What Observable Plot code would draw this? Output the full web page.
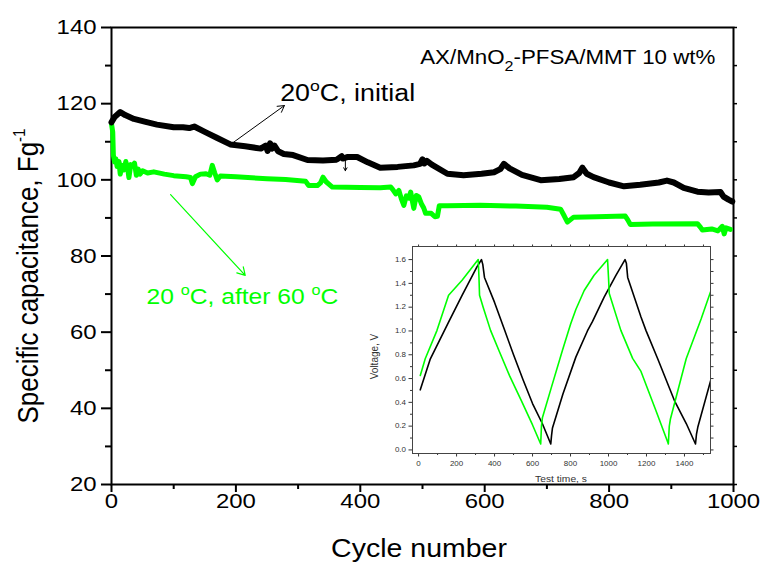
<!DOCTYPE html>
<html><head><meta charset="utf-8">
<script src="https://cdn.jsdelivr.net/npm/d3@7"></script>
<script src="https://cdn.jsdelivr.net/npm/@observablehq/plot@0.6"></script>
<style>
html,body{margin:0;padding:0;background:#fff;}
#wrap{position:relative;width:761px;height:565px;overflow:hidden;background:#fff;}
#wrap svg{position:absolute;max-width:none;}
</style></head><body><div id="wrap"></div>
<script>
// ---------- data ----------
const initialCycle = [0,5,14,22,36,55,73,100,115,125,133,150,170,191,215,240,248,251,255,258,262,268,277,292,315,340,362,370,372,380,395,412,432,460,486,496,500,503,507,515,540,566,595,615,625,631,640,660,690,720,743,752,757,764,775,800,824,850,880,893,904,920,942,960,979,984,992,998];
const initialCap = [115.1,116.5,117.8,117,116,115.2,114.5,113.8,113.8,113.6,114,112.6,111,109.3,108.8,108.2,109,107.6,109.6,108.2,109,107.5,106.8,106.5,105.2,105.1,105.3,106.2,105.6,106,106,104.6,103.2,103.4,103.8,104.2,105.4,104.3,105,104,101.6,101.2,101.6,102,102.8,104.2,103,101.3,99.9,100.2,100.7,101.8,103.2,101.6,100.7,99.3,98.3,98.7,99.3,99.8,99.3,97.9,96.9,96.7,96.8,95.6,94.8,94.3];

const afterCycle = [0,2,3,5,7,9,12,14,17,20,23,26,28,31,34,37,40,43,46,50,58,68,85,100,120,127,130,135,143,152,158,162,166,170,175,200,250,280,312,317,331,336,340,345,355,400,432,449,452,457,462,466,470,474,478,481,484,486,490,494,498,502,505,514,520,524,527,540,593,650,700,722,728,733,743,780,826,830,834,870,942,947,950,965,975,982,985,988,995];
const afterCap = [114.7,112.5,106.5,104.7,105.5,103.5,104.8,101.5,103.8,102.6,104.8,103,100.6,104,103.6,104.4,101.2,102.8,101.5,102.4,101.8,102.1,101.5,101.1,100.8,100.6,99,100.8,101.5,101.6,101.2,103.8,101.8,100,101,100.8,100.3,100.1,99.6,98.5,98.5,99.2,100.7,99.5,98.1,98,97.9,98.1,97.5,96.3,97.2,95,93.3,95.8,95.2,96.8,94.2,92.5,95.9,95.5,93.8,92.6,91.2,91.2,90.3,90.4,93.2,93.2,93.3,93.1,92.8,92.3,90.5,88.9,90.2,90.3,90.5,89.5,88.3,88.4,88.5,87.5,86.8,87.1,86.6,87.8,85.8,87.4,87];

const insetInitialTime = [9,62,158,229,308,331,338,347,400,450,500,550,600,652,696,700,705,760,828,889,916,977,1039,1087,1094,1101,1171,1197,1259,1347,1410,1458,1463,1470,1541];
const insetInitialVoltage = [0.505,0.766,1.075,1.30,1.54,1.6,1.56,1.45,1.24,1.02,0.80,0.59,0.39,0.22,0.05,0.12,0.185,0.47,0.78,1.0,1.08,1.285,1.468,1.6,1.57,1.45,1.117,1.005,0.766,0.415,0.22,0.05,0.13,0.19,0.6];
const insetAfterTime = [9,35,97,158,229,314,318,321,340,379,423,480,541,600,643,647,652,700,758,801,828,872,924,995,1000,1004,1065,1127,1171,1250,1312,1315,1320,1326,1409,1488,1541];
const insetAfterVoltage = [0.626,0.766,1.005,1.30,1.426,1.6,1.45,1.30,1.2,1.005,0.836,0.62,0.415,0.21,0.05,0.2,0.27,0.53,0.84,1.06,1.18,1.34,1.468,1.6,1.45,1.314,1.005,0.77,0.66,0.33,0.064,0.05,0.2,0.26,0.766,1.103,1.347];

const xTicks = [0,200,400,600,800,1000];
const xMinorTicks = [100,300,500,700,900];
const yTicks = [20,40,60,80,100,120,140];
const yMinorTicks = [30,50,70,90,110,130];
const insetXTicks = [0,200,400,600,800,1000,1200,1400];
const insetXMinorTicks = [100,300,500,700,900,1100,1300,1500];
const insetYTicks = [0,0.2,0.4,0.6,0.8,1.0,1.2,1.4,1.6];
const insetYMinorTicks = [0.1,0.3,0.5,0.7,0.9,1.1,1.3,1.5];

const blackArrows = [{x1:194,y1:109.6,x2:278,y2:119.5},{x1:376,y1:106.2,x2:376,y2:102.4}];
const greenArrows = [{x1:95,y1:96.1,x2:215,y2:74.9}];

const annotations = [
  {cycle:272, cap:120.6, parts:[["20",0],["o",1],["C, initial",0]], series:"initial"},
  {cycle:497, cap:130.3, parts:[["AX/MnO",0],["2",-1],["-PFSA/MMT 10 wt%",0]], series:"title"},
  {cycle:57, cap:67.3, parts:[["20 ",0],["o",1],["C, after 60 ",0],["o",1],["C",0]], series:"after"}
];
const xLabel = "Cycle number";
const yLabelParts = [["Specific capacitance, Fg",0],["-1",1]];
const insetXLabel = "Test time, s";
const insetYLabel = "Voltage, V";

// ---------- drawing ----------
const GREEN = "#00ff00";
const FONT = "'Liberation Sans', Arial, Helvetica, sans-serif";
const K = 1.14; // horizontal glyph stretch seen in the reference

const initialData = initialCycle.map((c,i)=>({cycle:c, cap:initialCap[i]}));
const afterData = afterCycle.map((c,i)=>({cycle:c, cap:afterCap[i]}));
const insetInitial = insetInitialTime.map((t,i)=>({t, v:insetInitialVoltage[i]}));
const insetAfter = insetAfterTime.map((t,i)=>({t, v:insetAfterVoltage[i]}));
const blank = () => "";

function richText(parent, parts, {x, y, size, fill, rotate=0, anchor="start", supRaise=0.4, supScale=0.66, subDrop=0.36, subScale=0.72}) {
  const t = parent.append("text")
    .attr("transform", `translate(${x},${y})` + (rotate ? ` scale(${K},1) rotate(${rotate})` : ""))
    .attr("font-family", FONT).attr("font-size", size).attr("fill", fill).attr("text-anchor", anchor)
    .style("white-space", "pre");
  if (rotate) t.attr("data-nostretch", "1");
  let shift = 0;
  for (const [str, kind] of parts) {
    const target = kind === 1 ? -supRaise*size : kind === -1 ? subDrop*size : 0;
    const fs = kind === 1 ? supScale*size : kind === -1 ? subScale*size : size;
    t.append("tspan").attr("dy", target - shift).attr("font-size", fs).text(str);
    shift = target;
  }
  return t;
}

// stretch horizontal texts by K without touching their positioning
function stretch(svg){
  svg.querySelectorAll("text").forEach(t=>{
    if (t.getAttribute("data-nostretch")) return;
    if (!t.textContent || !t.textContent.trim()) return;
    const L = t.getComputedTextLength();
    if (L > 0) {
      t.setAttribute("textLength", (L*K).toFixed(2));
      t.setAttribute("lengthAdjust", "spacingAndGlyphs");
    }
  });
}

const main = Plot.plot({
  width: 761, height: 565,
  marginLeft: 111, marginRight: 28, marginTop: 27, marginBottom: 81,
  style: {fontFamily: FONT, background: "white", color: "black"},
  x: {domain: [0, 1000]},
  y: {domain: [20, 140]},
  marks: [
    Plot.axisX({ticks: xTicks, tickSize: 8, tickPadding: 1, fontSize: 21, tickFormat: "d", strokeWidth: 2, label: null}),
    Plot.axisX({ticks: xMinorTicks, tickSize: 5, tickFormat: blank, strokeWidth: 2, label: null}),
    Plot.axisY({ticks: yTicks, tickSize: 10, tickPadding: 5, fontSize: 21, tickFormat: "d", strokeWidth: 2, label: null}),
    Plot.axisY({ticks: yMinorTicks, tickSize: 6, tickFormat: blank, strokeWidth: 2, label: null}),
    Plot.axisY({anchor: "right", ticks: yTicks.concat(yMinorTicks), tickSize: 3, tickFormat: blank, strokeWidth: 1.5, label: null}),
    Plot.frame({strokeWidth: 2}),
    Plot.line(afterData, {x: "cycle", y: "cap", stroke: GREEN, strokeWidth: 5}),
    Plot.line(initialData, {x: "cycle", y: "cap", stroke: "black", strokeWidth: 6}),
    Plot.arrow(blackArrows.slice(0,1), {x1:"x1", y1:"y1", x2:"x2", y2:"y2", stroke:"black", strokeWidth:1, headLength:11}),
    Plot.arrow(blackArrows.slice(1), {x1:"x1", y1:"y1", x2:"x2", y2:"y2", stroke:"black", strokeWidth:1, headLength:5}),
    Plot.arrow(greenArrows, {x1:"x1", y1:"y1", x2:"x2", y2:"y2", stroke:GREEN, strokeWidth:1.2, headLength:11})
  ]
});
main.style.left = "0px"; main.style.top = "0px";

const svg = d3.select(main);
const sx = main.scale("x"), sy = main.scale("y");
const X = d3.scaleLinear(sx.domain, sx.range), Y = d3.scaleLinear(sy.domain, sy.range);
const noteStyle = {initial: {size: 23.5, fill: "black"}, title: {size: 19.6, fill: "black"}, after: {size: 21.6, fill: GREEN}};
for (const a of annotations) {
  richText(svg, a.parts, {x: X(a.cycle), y: Y(a.cap), ...noteStyle[a.series]});
}
richText(svg, [[xLabel,0]], {x: (sx.range[0]+sx.range[1])/2 - 3, y: 557, size: 25, fill: "black", anchor: "middle"});
richText(svg, yLabelParts, {x: 38, y: 276, size: 26, fill: "black", anchor: "middle", rotate: -90, supRaise: 0.45, supScale: 0.58});

// ---------- inset ----------
const IL = 46, IR = 8, IT = 6, IB = 34, IW = 298, IH = 207;
const inset = Plot.plot({
  width: IL + IW + IR, height: IT + IH + IB,
  marginLeft: IL, marginRight: IR, marginTop: IT, marginBottom: IB,
  style: {fontFamily: FONT, background: "transparent", color: "#333"},
  x: {domain: [-32, 1537]},
  y: {domain: [-0.03, 1.71]},
  marks: [
    Plot.axisX({ticks: insetXTicks, tickSize: 3.5, tickPadding: 4, fontSize: 7, tickFormat: "d", label: null}),
    Plot.axisX({ticks: insetXMinorTicks, tickSize: 2, tickFormat: blank, label: null}),
    Plot.axisX({anchor: "top", ticks: insetXTicks.concat(insetXMinorTicks), tickSize: 2.5, tickFormat: blank, label: null}),
    Plot.axisY({ticks: insetYTicks, tickSize: 3.5, tickPadding: 3, fontSize: 7, tickFormat: ".1f", label: null}),
    Plot.axisY({ticks: insetYMinorTicks, tickSize: 2, tickFormat: blank, label: null}),
    Plot.axisY({anchor: "right", ticks: insetYTicks.concat(insetYMinorTicks), tickSize: 2.5, tickFormat: blank, label: null}),
    Plot.frame({stroke: "#444", strokeWidth: 1}),
    Plot.line(insetInitial, {x: "t", y: "v", stroke: "black", strokeWidth: 1.6, clip: true}),
    Plot.line(insetAfter, {x: "t", y: "v", stroke: GREEN, strokeWidth: 1.6, clip: true})
  ]
});
inset.style.left = (412 - IL) + "px";
inset.style.top = (246 - IT) + "px";
const isvg = d3.select(inset);
richText(isvg, [[insetXLabel,0]], {x: IL + IW/2, y: IT + IH + 29, size: 9, fill: "#333", anchor: "middle"});
richText(isvg, [[insetYLabel,0]], {x: 11.5, y: IT + IH/2 + 7, size: 10, fill: "#333", anchor: "middle", rotate: -90});

const wrap = document.getElementById("wrap");
wrap.appendChild(main);
wrap.appendChild(inset);
stretch(main);
stretch(inset);
</script></body></html>
